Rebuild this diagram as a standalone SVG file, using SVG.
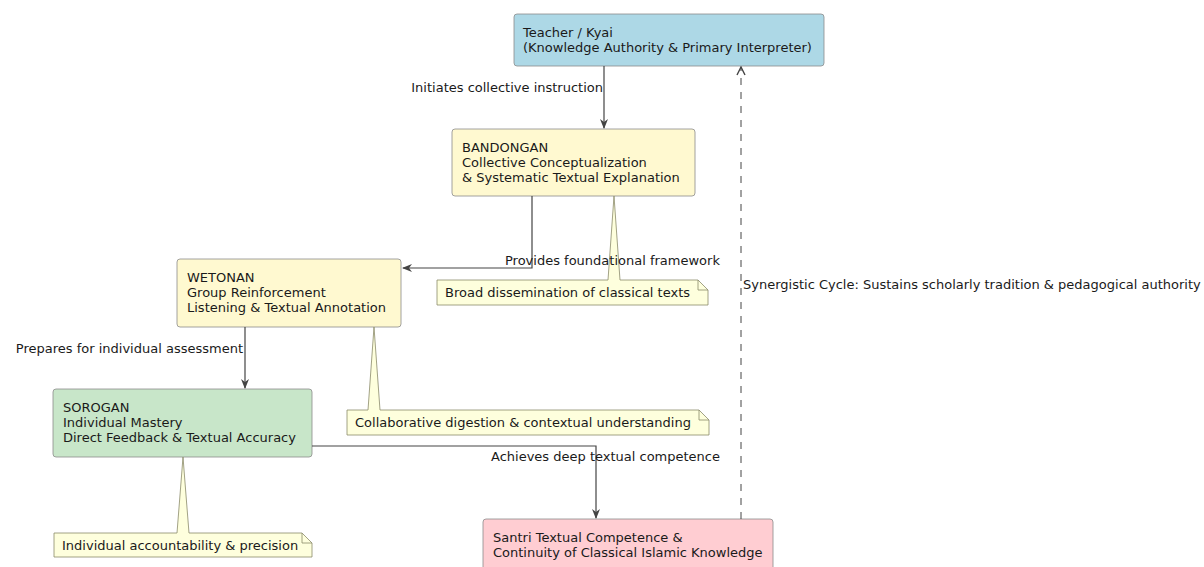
<svg xmlns="http://www.w3.org/2000/svg" width="1204" height="567" viewBox="0 0 1204 567">
<defs>
<style>
text{font-family:"DejaVu Sans",Verdana,sans-serif;font-size:13px;fill:#1a1a1a}
.box{stroke:#8c8c8c;stroke-width:0.8}
.note{fill:#FEFFDD;stroke:#8a8a6a;stroke-width:0.8}
.ln{fill:none;stroke:#444;stroke-width:1.2}
.dash{fill:none;stroke:#444;stroke-width:1;stroke-dasharray:7,7}
</style>
<marker id="ah" viewBox="0 0 10 10" refX="9" refY="5" markerWidth="10" markerHeight="10" markerUnits="userSpaceOnUse" orient="auto">
<path d="M0,1 L10,5 L0,9 L3,5 Z" fill="#444"/>
</marker>
<marker id="oh" viewBox="0 0 10 10" refX="9" refY="5" markerWidth="10" markerHeight="10" markerUnits="userSpaceOnUse" orient="auto">
<path d="M1,1 L9,5 L1,9" fill="none" stroke="#444" stroke-width="1.4"/>
</marker>
</defs>
<rect width="1204" height="567" fill="#fff"/>

<g id="teacher">
<rect class="box" x="514" y="14" width="310" height="52" rx="3" fill="#ADD8E6"/>
<text x="523" y="37">Teacher / Kyai</text>
<text x="523" y="52">(Knowledge Authority &amp; Primary Interpreter)</text>
</g>

<g id="bandongan">
<rect class="box" x="452" y="129" width="243" height="67" rx="3" fill="#FFF9D0"/>
<text x="462" y="152">BANDONGAN</text>
<text x="462" y="167">Collective Conceptualization</text>
<text x="462" y="182">&amp; Systematic Textual Explanation</text>
</g>

<g id="note-bandongan">
<path class="note" d="M437,280 L608,280 L614,196 L620,280 L698,280 L708,290 L708,305 L437,305 Z"/>
<path d="M698,280 L698,290 L708,290" fill="none" stroke="#8a8a6a" stroke-width="0.8"/>
<text x="445" y="297">Broad dissemination of classical texts</text>
</g>

<g id="wetonan">
<rect class="box" x="177" y="259" width="224" height="68" rx="3" fill="#FFF9D0"/>
<text x="187" y="282">WETONAN</text>
<text x="187" y="297">Group Reinforcement</text>
<text x="187" y="312">Listening &amp; Textual Annotation</text>
</g>

<g id="note-wetonan">
<path class="note" d="M347,410 L368,410 L374,327 L380,410 L699,410 L709,420 L709,435 L347,435 Z"/>
<path d="M699,410 L699,420 L709,420" fill="none" stroke="#8a8a6a" stroke-width="0.8"/>
<text x="355" y="427">Collaborative digestion &amp; contextual understanding</text>
</g>

<g id="sorogan">
<rect class="box" x="53" y="389" width="259" height="68" rx="3" fill="#C8E6C9"/>
<text x="63" y="412">SOROGAN</text>
<text x="63" y="427">Individual Mastery</text>
<text x="63" y="442">Direct Feedback &amp; Textual Accuracy</text>
</g>

<g id="note-sorogan">
<path class="note" d="M54,533 L177,533 L183,457 L189,533 L302,533 L312,543 L312,557 L54,557 Z"/>
<path d="M302,533 L302,543 L312,543" fill="none" stroke="#8a8a6a" stroke-width="0.8"/>
<text x="62" y="550">Individual accountability &amp; precision</text>
</g>

<g id="santri">
<rect class="box" x="483" y="519" width="290" height="54" rx="3" fill="#FFCDD2"/>
<text x="493" y="542">Santri Textual Competence &amp;</text>
<text x="493" y="557">Continuity of Classical Islamic Knowledge</text>
</g>

<g id="connectors">
<path class="ln" d="M604,66 L604,128" marker-end="url(#ah)"/>
<text x="603" y="92" text-anchor="end">Initiates collective instruction</text>
<path class="ln" d="M532,196 L532,268 L403,268" marker-end="url(#ah)"/>
<text x="505" y="265">Provides foundational framework</text>
<path class="ln" d="M245,327 L245,388" marker-end="url(#ah)"/>
<text x="243" y="353" text-anchor="end">Prepares for individual assessment</text>
<path class="ln" d="M312,446 L596,446 L596,518" marker-end="url(#ah)"/>
<text x="491" y="461">Achieves deep textual competence</text>
<path class="dash" d="M741,519 L741,67" marker-end="url(#oh)"/>
<text x="743" y="289">Synergistic Cycle: Sustains scholarly tradition &amp; pedagogical authority</text>
</g>
</svg>
